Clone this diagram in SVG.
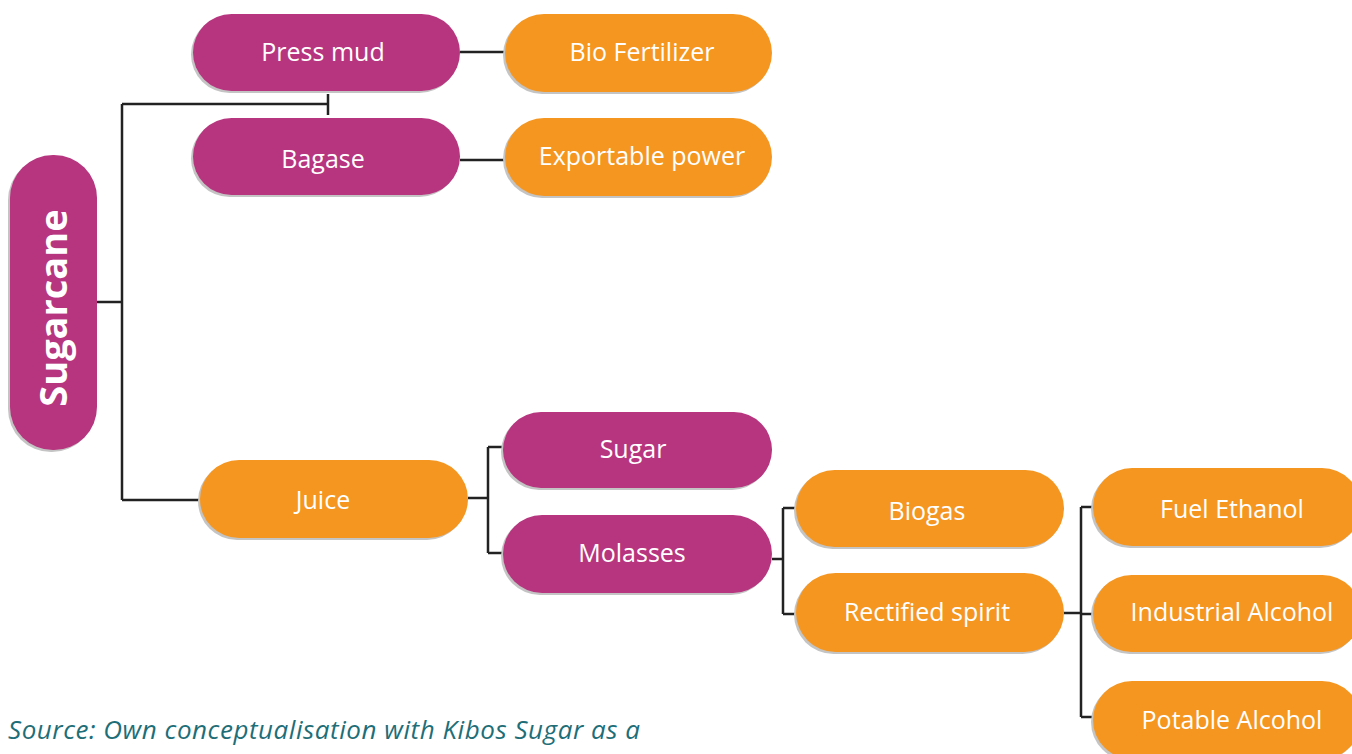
<svg xmlns="http://www.w3.org/2000/svg" width="1352" height="754" viewBox="0 0 1352 754">
<style>
.sh{fill:#c4c4c4}
.m{fill:#B7357F}
.o{fill:#F59621}
.t{fill:#fff;font-family:"Open Sans","DejaVu Sans",sans-serif;font-size:25px;text-anchor:middle}
.ln{stroke:#222;stroke-width:2.5;fill:none}
.src{fill:#1E6E78;font-family:"Open Sans","DejaVu Sans",sans-serif;font-style:italic;font-size:26px}
</style>
<rect width="1352" height="754" fill="#fff"/>
<g id="connectors">
<path class="ln" d="M97 302H122M122 104V500M122 104H328M328 94V115M122 500H200"/>
<path class="ln" d="M460 52H505M460 160H505"/>
<path class="ln" d="M468 498H488M488 447V553M488 447H503M488 553H503"/>
<path class="ln" d="M772 559H783M783 508V614M783 508H796M783 614H796"/>
<path class="ln" d="M1064 613H1081M1081 507V717M1081 507H1093M1081 614H1093M1081 717H1093"/>
</g>
<g id="sugarcane">
<rect class="sh" x="8" y="157" width="87" height="295" rx="43"/>
<rect class="m" x="10" y="155" width="87" height="295" rx="43"/>
<text transform="translate(67,308) rotate(-90)" style="fill:#fff;font-family:'Open Sans','DejaVu Sans',sans-serif;font-size:38px;font-weight:bold;text-anchor:middle">Sugarcane</text>
</g>
<g id="pressmud">
<rect class="sh" x="191" y="16" width="267" height="77" rx="38.5"/>
<rect class="m" x="193" y="14" width="267" height="77" rx="38.5"/>
<text class="t" x="323" y="61">Press mud</text>
</g>
<g id="bagase">
<rect class="sh" x="191" y="120" width="267" height="77" rx="38.5"/>
<rect class="m" x="193" y="118" width="267" height="77" rx="38.5"/>
<text class="t" x="323" y="168">Bagase</text>
</g>
<g id="biofertilizer">
<rect class="sh" x="503" y="16" width="267" height="78" rx="39"/>
<rect class="o" x="505" y="14" width="267" height="78" rx="39"/>
<text class="t" x="642" y="61">Bio Fertilizer</text>
</g>
<g id="exportable">
<rect class="sh" x="503" y="120" width="267" height="78" rx="39"/>
<rect class="o" x="505" y="118" width="267" height="78" rx="39"/>
<text class="t" x="642" y="165">Exportable power</text>
</g>
<g id="juice">
<rect class="sh" x="198" y="462" width="268" height="78" rx="39"/>
<rect class="o" x="200" y="460" width="268" height="78" rx="39"/>
<text class="t" x="323" y="509">Juice</text>
</g>
<g id="sugar">
<rect class="sh" x="501" y="414" width="269" height="76" rx="38"/>
<rect class="m" x="503" y="412" width="269" height="76" rx="38"/>
<text class="t" x="633" y="458">Sugar</text>
</g>
<g id="molasses">
<rect class="sh" x="501" y="517" width="269" height="78" rx="39"/>
<rect class="m" x="503" y="515" width="269" height="78" rx="39"/>
<text class="t" x="632" y="562">Molasses</text>
</g>
<g id="biogas">
<rect class="sh" x="794" y="472" width="268" height="77" rx="38.5"/>
<rect class="o" x="796" y="470" width="268" height="77" rx="38.5"/>
<text class="t" x="927" y="520">Biogas</text>
</g>
<g id="rectified">
<rect class="sh" x="794" y="575" width="268" height="79" rx="39.5"/>
<rect class="o" x="796" y="573" width="268" height="79" rx="39.5"/>
<text class="t" x="927" y="621">Rectified spirit</text>
</g>
<g id="fuelethanol">
<rect class="sh" x="1091" y="470" width="268" height="78" rx="39"/>
<rect class="o" x="1093" y="468" width="268" height="78" rx="39"/>
<text class="t" x="1232" y="518">Fuel Ethanol</text>
</g>
<g id="industrial">
<rect class="sh" x="1091" y="577" width="268" height="77" rx="38.5"/>
<rect class="o" x="1093" y="575" width="268" height="77" rx="38.5"/>
<text class="t" x="1232" y="621">Industrial Alcohol</text>
</g>
<g id="potable">
<rect class="sh" x="1091" y="683" width="268" height="78" rx="39"/>
<rect class="o" x="1093" y="681" width="268" height="78" rx="39"/>
<text class="t" x="1232" y="729">Potable Alcohol</text>
</g>
<text class="src" x="8" y="739" textLength="632" lengthAdjust="spacing">Source: Own conceptualisation with Kibos Sugar as a</text>
</svg>
